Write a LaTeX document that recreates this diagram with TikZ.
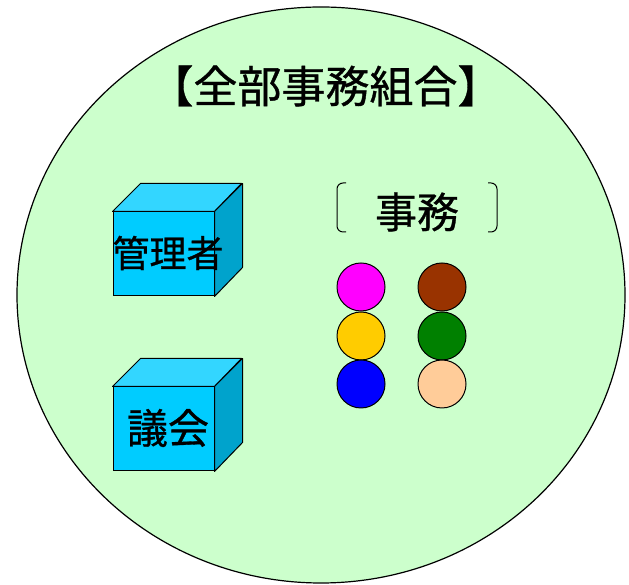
\documentclass[tikz,border=0pt]{standalone}
\usepackage{fontspec}
\setmainfont{Noto Sans CJK JP}[FakeBold=0.8]
\usetikzlibrary{shapes.geometric}
\definecolor{bggreen}{HTML}{CCFFCC}
\definecolor{cubefront}{HTML}{00CCFF}
\definecolor{cubetop}{HTML}{33D6FF}
\definecolor{cubeside}{HTML}{00A3CC}
\definecolor{dotmagenta}{HTML}{FF00FF}
\definecolor{dotgold}{HTML}{FFCC00}
\definecolor{dotblue}{HTML}{0000FF}
\definecolor{dotbrown}{HTML}{993300}
\definecolor{dotgreen}{HTML}{008000}
\definecolor{dotpeach}{HTML}{FFCC99}
\begin{document}
\begin{tikzpicture}[x=1pt, y=1pt,
    front/.style={draw, line width=1pt, fill=cubefront, minimum width=101pt, minimum height=84pt, inner sep=0pt},
    face/.style={draw, line width=1pt, line join=round},
    ball/.style={circle, draw, line width=1pt, minimum size=48pt, inner sep=0pt},
    jp/.style={inner sep=0pt, font=\fontsize{#1}{#1}\selectfont}]
    \useasboundingbox (0,0) rectangle (629,585);

    \node[ellipse, draw, line width=1.2pt, fill=bggreen, minimum width=608pt, minimum height=576pt] (union) at (321,290) {};
    \node[jp=44] (title) at (325.5,499) {【全部事務組合】};

    \foreach \n/\yy in {mgr/331, cou/156} {
        \node[front] (\n) at (163.5,\yy) {};
        \draw[face, fill=cubetop] (\n.north west) -- ++(28,28) -- ++(101,0) -- (\n.north east) -- cycle;
        \draw[face, fill=cubeside] (\n.north east) -- ++(28,28) -- ++(0,-84) -- (\n.south east) -- cycle;
    }
    \node[jp=37] (mgrlabel) at (168,332) {管理者};
    \node[jp=41] (coulabel) at (168,157) {議会};

    \node[jp=42] (task) at (417,373) {事務};
    \draw[line width=1pt, rounded corners=6pt] (346,402) -- (337,402) -- (337,353) -- (346,353);
    \draw[line width=1pt, rounded corners=6pt] (488,402) -- (497,402) -- (497,353) -- (488,353);

    \foreach \c/\x/\y [count=\i] in {dotmagenta/361/298, dotgold/361/249, dotblue/361/201,
                                     dotbrown/442/298, dotgreen/442/249, dotpeach/442/201}
        \node[ball, fill=\c] (dot\i) at (\x,\y) {};
\end{tikzpicture}
\end{document}
